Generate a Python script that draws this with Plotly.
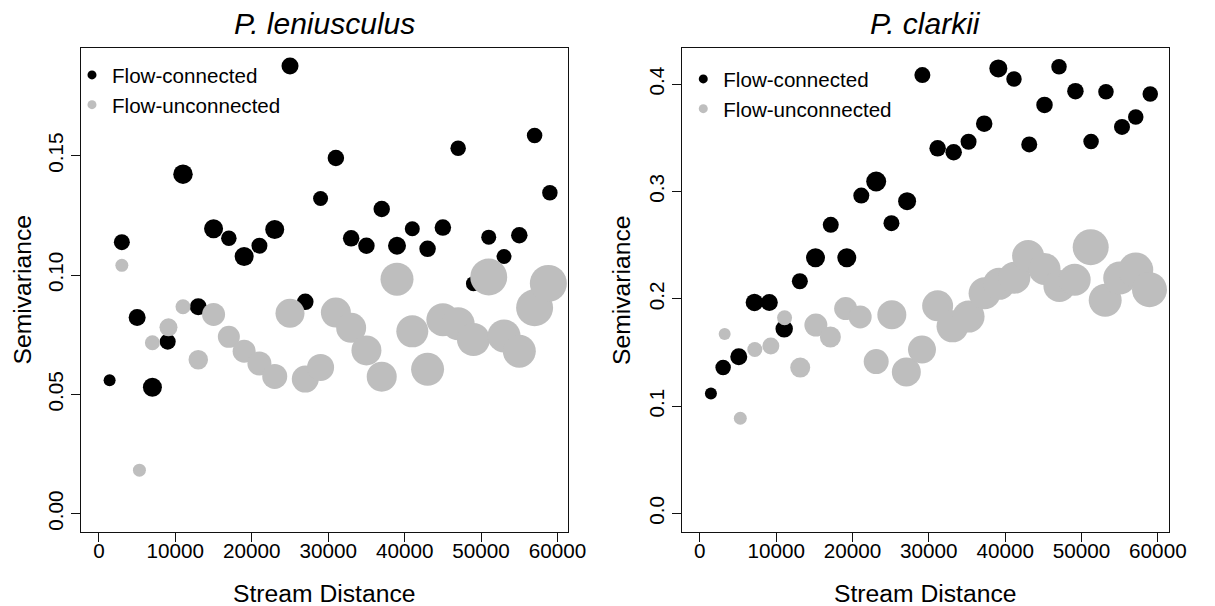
import plotly.graph_objects as go

# ---------------- data: P. leniusculus ----------------
len_conn_x = [1400, 3000, 5000, 7000, 9000, 11000, 13000, 15000, 17000, 19000,
              21000, 23000, 25000, 27000, 29000, 31000, 33000, 35000, 37000, 39000,
              41000, 43000, 45000, 47000, 49000, 51000, 53000, 55000, 57000, 59000]
len_conn_y = [0.0559, 0.1138, 0.0822, 0.0530, 0.0721, 0.1423, 0.0867, 0.1194, 0.1154, 0.1078,
              0.1123, 0.1191, 0.1877, 0.0888, 0.1321, 0.1491, 0.1154, 0.1123, 0.1277, 0.1123,
              0.1194, 0.1110, 0.1199, 0.1532, 0.0964, 0.1159, 0.1078, 0.1167, 0.1585, 0.1345]
len_conn_n = [12, 16, 17, 19, 16, 19.5, 17, 19, 15.5, 19,
              16, 19, 17, 16.5, 15, 16.5, 16.5, 16.5, 16.5, 18,
              15, 16.5, 16.5, 15.5, 15, 15, 15, 16.5, 15.5, 15.5]

len_unc_x = [3000, 5300, 7000, 9100, 11000, 13000, 15000, 17000, 19000, 21000,
             23000, 25000, 27000, 29000, 31000, 33000, 35000, 37000, 39000, 41000,
             43000, 45000, 47000, 49000, 51000, 53000, 55000, 57000, 58800]
len_unc_y = [0.1041, 0.0182, 0.0716, 0.0781, 0.0867, 0.0645, 0.0835, 0.0741, 0.0681, 0.0629,
             0.0575, 0.0840, 0.0564, 0.0613, 0.0843, 0.0779, 0.0684, 0.0574, 0.0983, 0.0764,
             0.0605, 0.0813, 0.0796, 0.0730, 0.0992, 0.0745, 0.0681, 0.0863, 0.0965]
len_unc_n = [13, 13, 15, 18, 15, 19.5, 23, 22, 23, 24,
             25, 29, 27, 27, 30, 30, 30, 30, 33, 32,
             33, 33, 33, 33, 37, 33, 33, 37, 37]

# ---------------- data: P. clarkii ----------------
cla_conn_x = [1450, 3050, 5100, 7150, 9100, 11050, 13100, 15150, 17150, 19250,
              21150, 23100, 25100, 27150, 29150, 31150, 33250, 35200, 37250, 39100,
              41150, 43150, 45150, 47050, 49200, 51250, 53200, 55300, 57100, 59000]
cla_conn_y = [0.1118, 0.1361, 0.1460, 0.1967, 0.1967, 0.1721, 0.2164, 0.2383, 0.2690, 0.2383,
              0.2962, 0.3093, 0.2705, 0.2910, 0.4085, 0.3402, 0.3366, 0.3464, 0.3632, 0.4147,
              0.4048, 0.3439, 0.3807, 0.4163, 0.3935, 0.3466, 0.3930, 0.3602, 0.3694, 0.3908]
cla_conn_n = [12, 15.5, 17, 17.5, 17, 17.5, 16, 19, 16, 19,
              16, 20, 16, 18, 16, 16.5, 16.5, 16, 16.5, 18,
              15.5, 16, 16.5, 15.5, 16.5, 15.5, 15.5, 16, 15.5, 15.5]

cla_unc_x = [3250, 5300, 7200, 9300, 11100, 13150, 15200, 17100, 19100, 21000,
             23100, 25150, 27050, 29100, 31150, 33100, 35200, 37300, 39200, 41200,
             43000, 45150, 47100, 49100, 51200, 53100, 55000, 57100, 58900]
cla_unc_y = [0.1672, 0.0888, 0.1528, 0.1561, 0.1824, 0.1360, 0.1756, 0.1645, 0.1910, 0.1832,
             0.1416, 0.1852, 0.1318, 0.1528, 0.1935, 0.1744, 0.1835, 0.2053, 0.2140, 0.2197,
             0.2400, 0.2278, 0.2121, 0.2178, 0.2482, 0.1987, 0.2194, 0.2269, 0.2086]
cla_unc_n = [12, 13, 15, 17, 15, 20, 23, 21, 23, 23,
             25, 29, 29, 28, 31, 32, 32, 32, 32, 32,
             32, 32, 32, 32, 36, 33, 33, 35, 35]

x_ticks = [0, 10000, 20000, 30000, 40000, 50000, 60000]
x_ticktext = ["0", "10000", "20000", "30000", "40000", "50000", "60000"]
len_y_ticks = [0.0, 0.05, 0.10, 0.15]
len_y_ticktext = ["0.00", "0.05", "0.10", "0.15"]
cla_y_ticks = [0.0, 0.1, 0.2, 0.3, 0.4]
cla_y_ticktext = ["0.0", "0.1", "0.2", "0.3", "0.4"]

BLACK = "#000000"
GREY = "#BEBEBE"
FONT = "Liberation Sans, Arial, Helvetica, sans-serif"

W, H = 1215, 606
OFF = 8  # page body margin


def px_x(p):
    return (p - OFF) / W


def px_y(p):
    return (H - (p - OFF)) / H


fig = go.Figure()


def add_series(x, y, n, color, xa, ya):
    fig.add_trace(go.Scatter(
        x=x, y=y, mode="markers", xaxis=xa, yaxis=ya, showlegend=False,
        marker=dict(color=color, size=n, symbol="circle", line=dict(width=0), opacity=1),
        hoverinfo="x+y"))


add_series(len_conn_x, len_conn_y, len_conn_n, BLACK, "x", "y")
add_series(len_unc_x, len_unc_y, len_unc_n, GREY, "x", "y")
add_series(cla_conn_x, cla_conn_y, cla_conn_n, BLACK, "x2", "y2")
add_series(cla_unc_x, cla_unc_y, cla_unc_n, GREY, "x2", "y2")

# legend entries
for name, color in [("Flow-connected", BLACK), ("Flow-unconnected", GREY)]:
    fig.add_trace(go.Scatter(x=[None], y=[None], mode="markers", xaxis="x", yaxis="y",
                             name=name, legend="legend",
                             marker=dict(color=color, size=9, line=dict(width=0))))
    fig.add_trace(go.Scatter(x=[None], y=[None], mode="markers", xaxis="x2", yaxis="y2",
                             name=name, legend="legend2",
                             marker=dict(color=color, size=9, line=dict(width=0))))

axis_common = dict(showline=True, mirror=True, linecolor="#111111", linewidth=1,
                   ticks="outside", ticklen=9, tickwidth=1, tickcolor="#111111",
                   showgrid=False, zeroline=False,
                   tickfont=dict(family=FONT, size=20.7, color="black"))

L_X = [px_x(82.5), px_x(576.5)]
R_X = [px_x(693.0), px_x(1187.0)]
Y_DOM = [px_y(531.5), px_y(48.0)]

fig.update_layout(
    width=W, height=H,
    margin=dict(l=0, r=0, t=0, b=0),
    paper_bgcolor="white", plot_bgcolor="white",
    font=dict(family=FONT, color="black"),
    xaxis=dict(domain=L_X, range=[-2300, 61320], tickvals=x_ticks, ticktext=x_ticktext,
               anchor="y", ticklabelstandoff=-8, **axis_common),
    yaxis=dict(domain=Y_DOM, range=[-0.0075, 0.1952], tickvals=len_y_ticks,
               ticktext=len_y_ticktext, tickangle=-90, anchor="x", **axis_common),
    xaxis2=dict(domain=R_X, range=[-2300, 61400], tickvals=x_ticks, ticktext=x_ticktext,
                anchor="y2", ticklabelstandoff=-8, **axis_common),
    yaxis2=dict(domain=Y_DOM, range=[-0.0167, 0.4337], tickvals=cla_y_ticks,
                ticktext=cla_y_ticktext, tickangle=-90, anchor="x2", **axis_common),
    legend=dict(x=px_x(73), y=px_y(55), xanchor="left", yanchor="top",
                bgcolor="rgba(0,0,0,0)", borderwidth=0, itemwidth=30,
                font=dict(family=FONT, size=20.6, color="black")),
    legend2=dict(x=px_x(694), y=px_y(59), xanchor="left", yanchor="top",
                 bgcolor="rgba(0,0,0,0)", borderwidth=0, itemwidth=30,
                 font=dict(family=FONT, size=20.6, color="black")),
)

ann_font_title = dict(family=FONT, size=30, color="black")
ann_font_lab = dict(family=FONT, size=24.7, color="black")
annotations = [
    dict(text="<i>P. leniusculus</i>", x=(L_X[0] + L_X[1]) / 2, y=px_y(24),
         font=ann_font_title),
    dict(text="<i>P. clarkii</i>", x=(R_X[0] + R_X[1]) / 2, y=px_y(24),
         font=ann_font_title),
    dict(text="Stream Distance", x=(L_X[0] + L_X[1]) / 2, y=px_y(593),
         font=ann_font_lab),
    dict(text="Stream Distance", x=(R_X[0] + R_X[1]) / 2, y=px_y(593),
         font=ann_font_lab),
    dict(text="Semivariance", x=px_x(23), y=px_y(289.75), textangle=-90,
         font=ann_font_lab),
    dict(text="Semivariance", x=px_x(632.0), y=px_y(289.75), textangle=-90,
         font=ann_font_lab),
]
for a in annotations:
    a.update(xref="paper", yref="paper", xanchor="center", yanchor="middle",
             showarrow=False, borderpad=0)
fig.update_layout(annotations=annotations)

fig.write_html("out.html")
